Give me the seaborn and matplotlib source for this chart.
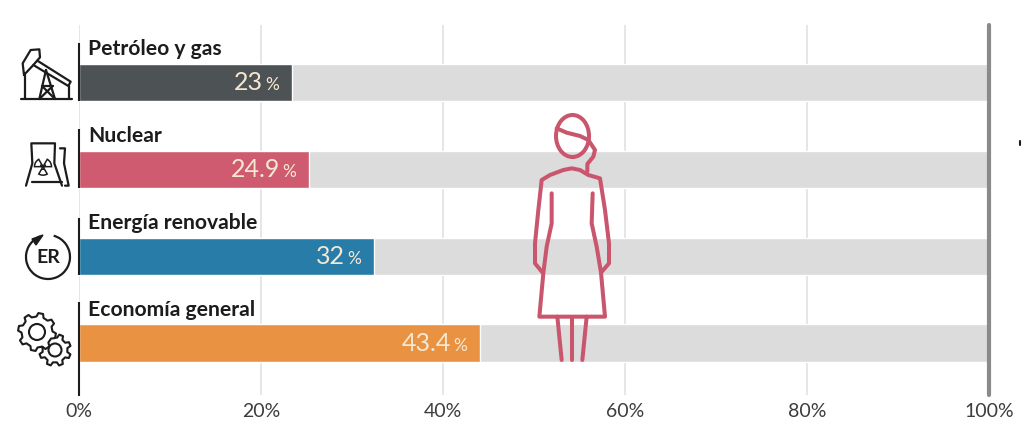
import numpy as np
import pandas as pd
import matplotlib
matplotlib.use("Agg")
import matplotlib.pyplot as plt
from matplotlib.patches import Ellipse, Arc, Polygon, Circle, Wedge
import seaborn as sns

categories = ["Petróleo y gas", "Nuclear", "Energía renovable", "Economía general"]
bar_lengths = [23.4, 25.3, 32.4, 44.1]   # length as drawn in the picture
number_labels = ["23", "24.9", "32", "43.4"]
track_total = [100, 100, 100, 100]
colors = ["#4d5355", "#cf5b70", "#277ca8", "#e99242"]
x_ticks = [0, 20, 40, 60, 80, 100]
x_tick_labels = ["0%", "20%", "40%", "60%", "80%", "100%"]

W, H = 1024, 436
INK = "#1c1c1c"
ROSE = "#c9566c"
CREAM = "#f5e8d3"

sns.set_theme(style="white")
plt.rcParams["font.family"] = ["Lato", "DejaVu Sans"]

fig = plt.figure(figsize=(W / 100, H / 100), dpi=100, facecolor="white")
ax = fig.add_axes([79 / W, 1 - 395 / H, 910 / W, 370 / H])
ax.set_axisbelow(True)

df = pd.DataFrame({"cat": categories, "value": bar_lengths, "total": track_total})
sns.barplot(data=df, y="cat", x="total", color="#dcdcdc", width=0.43, saturation=1,
            orient="h", ax=ax, zorder=2)
sns.barplot(data=df, y="cat", x="value", hue="cat", palette=colors, width=0.43, saturation=1,
            orient="h", legend=False, dodge=False, ax=ax, zorder=3)

ax.set_xlim(0, 100)
ax.set_ylim(3 + 52 / 87, -57.5 / 87)
ax.set_xlabel("")
ax.set_ylabel("")
ax.set_yticks([])
ax.set_xticks(x_ticks)
ax.set_xticklabels(x_tick_labels, fontsize=14, color="#3d3d3d")
ax.tick_params(axis="x", length=0, pad=6)
ax.xaxis.grid(True, color="#e2e2e2", linewidth=1.2, zorder=1)
for s in ax.spines.values():
    s.set_visible(False)
ax.axvline(100, color="#8a8a8a", linewidth=3, zorder=5, clip_on=False)

for i, (cat, val, num) in enumerate(zip(categories, bar_lengths, number_labels)):
    ax.annotate(cat, xy=(0, i), xytext=(9, 27), textcoords="offset pixels",
                fontsize=15.2, fontweight="bold", color=INK, ha="left", va="baseline", zorder=6)
    ax.annotate("%", xy=(val, i), xytext=(-13, -8), textcoords="offset pixels",
                fontsize=12.5, color=CREAM, ha="right", va="baseline", zorder=6)
    ax.annotate(num, xy=(val, i), xytext=(-29, -8), textcoords="offset pixels",
                fontsize=18, color=CREAM, ha="right", va="baseline", zorder=6)

# Overlay in pixel coordinates: axis segments and pictograms
ov = fig.add_axes([0, 0, 1, 1], facecolor="none")
ov.set_xlim(0, W)
ov.set_ylim(H, 0)
ov.axis("off")

def pl(pts, color=INK, lw=1.6):
    xs, ys = zip(*pts)
    ov.plot(xs, ys, color=color, lw=lw, solid_capstyle="round", solid_joinstyle="round")

for y0, y1 in [(43, 101), (129, 188), (218, 275), (302, 396)]:
    ov.plot([79, 79], [y0, y1], color=INK, lw=1.5, solid_capstyle="butt")
ov.plot([1020, 1020], [141, 145], color=INK, lw=1.5)

# Woman (zoom coordinates of the crop -> pixels)
def wz(pts):
    return [(500 + a / 3, 100 + b / 3) for a, b in pts]

wlw = 2.9
ov.add_patch(Ellipse((572.5, 136), 33, 42, fill=False, ec=ROSE, lw=wlw))
pl(wz([(170, 85), (200, 98), (240, 108), (265, 120), (285, 150), (280, 170), (262, 192), (262, 214)]), ROSE, wlw)
pl(wz([(128, 518), (105, 490), (105, 430), (115, 330), (125, 240), (150, 225), (190, 210), (215, 205), (240, 210),
       (265, 225), (300, 235), (315, 330), (327, 430), (327, 490), (303, 518)]), ROSE, wlw)
pl(wz([(155, 280), (155, 370), (140, 440), (130, 520), (118, 650), (315, 650), (303, 518), (290, 440),
       (275, 370), (278, 280)]), ROSE, wlw)
pl(wz([(172, 650), (185, 780)]), ROSE, wlw)
pl(wz([(215, 650), (215, 780)]), ROSE, wlw)
pl(wz([(260, 650), (247, 780)]), ROSE, wlw)

# Pump jack
def z1(pts):
    return [(a / 3, 20 + b / 3) for a, b in pts]

pl(z1([(63, 237), (215, 237)]))
pl(z1([(75, 237), (75, 165)]))
pl(z1([(72, 165), (68, 130), (92, 90), (118, 88), (120, 112), (100, 135), (72, 165)]))
pl(z1([(112, 122), (212, 185), (205, 198), (100, 135)]))
pl(z1([(138, 150), (118, 237)]))
pl(z1([(138, 150), (165, 237)]))
pl(z1([(126, 198), (158, 198)]))
pl(z1([(126, 198), (165, 237)]))
pl(z1([(158, 198), (118, 237)]))
pl(z1([(208, 197), (208, 237)]))

# Cooling tower
pl(z1([(78, 497), (97, 430), (94, 370), (165, 370), (163, 430), (186, 497)]))
pl(z1([(97, 487), (186, 487)]))
pl(z1([(180, 385), (195, 385), (192, 430), (206, 497), (195, 497)]))
tc = (129 / 3, 20 + 440 / 3)
ov.add_patch(Circle(tc, 1.3, fc=INK, ec=INK))
for th in [(-300 + 0, -240), (-180, -120), (-60, 0)]:
    ov.add_patch(Wedge(tc, 8.5, th[0], th[1], width=6, fill=False, ec=INK, lw=1.1))

# ER circular arrow
cx, cy = 48, 257
ov.add_patch(Arc((cx, cy), 44, 44, theta1=-75, theta2=250, ec=INK, lw=1.6))
ov.add_patch(Polygon([(32, 239), (43, 235), (36, 245)], closed=True, fc=INK, ec=INK))
ov.text(cx, cy + 0.5, "ER", fontsize=14, fontweight="bold", color=INK, ha="center", va="center")

# Gears
def gear(cx, cy, r_out, r_in, r_hole, teeth, phase=0.0, z=3):
    step = 2 * np.pi / teeth
    offs = np.array([-0.30, -0.16, 0.16, 0.30]) * step
    ang = phase + (np.arange(teeth)[:, None] * step + offs).ravel()
    rad = np.tile([r_in, r_out, r_out, r_in], teeth)
    ov.add_patch(Polygon(np.c_[cx + rad * np.cos(ang), cy + rad * np.sin(ang)], closed=True,
                         fc="white", ec=INK, lw=1.5, joinstyle="round", zorder=z))
    ov.add_patch(Circle((cx, cy), r_hole, fc="white", ec=INK, lw=1.5, zorder=z))

gear(55, 350, 16, 12.5, 6.5, 8, 0.4, z=3)
gear(37, 332, 19, 15.5, 8, 8, 0.2, z=4)

fig.savefig("out.png", dpi=100)
